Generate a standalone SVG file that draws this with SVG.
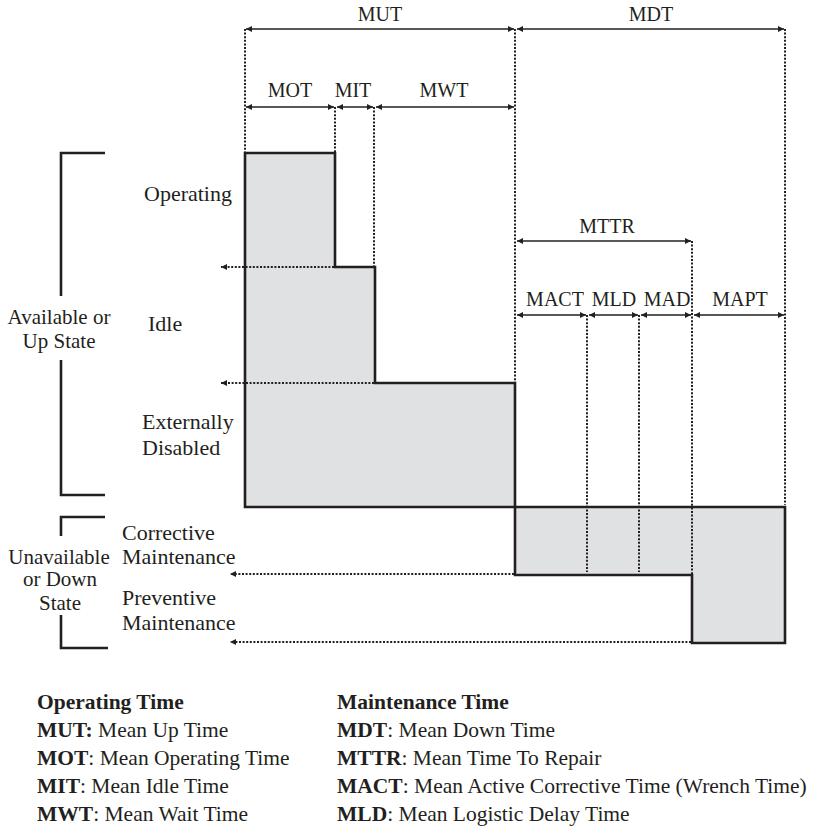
<svg xmlns="http://www.w3.org/2000/svg" width="820" height="838" viewBox="0 0 820 838">
<style>
text{font-family:"Liberation Serif","Times New Roman",serif;font-size:21px;fill:#231f20}
.c{text-anchor:middle}
.b{font-weight:bold}
.d{font-size:20px}
.s{font-size:22px}
.lg{font-size:21.5px}
.dim{stroke:#231f20;stroke-width:1.5;fill:none}
.dot{stroke:#231f20;stroke-width:2;stroke-dasharray:2 1.6;fill:none}
.shape{fill:#e0e1e3;stroke:#231f20;stroke-width:2.6}
.br{stroke:#231f20;stroke-width:2.6;fill:none}
</style>
<defs>
<marker id="ah" viewBox="0 0 10 10" refX="10" refY="5" markerWidth="7" markerHeight="6" markerUnits="userSpaceOnUse" orient="auto-start-reverse">
<path d="M0,0 L10,5 L0,10 z" fill="#231f20"/>
</marker>
<marker id="ahs" viewBox="0 0 10 10" refX="10" refY="5" markerWidth="8" markerHeight="6" markerUnits="userSpaceOnUse" orient="auto-start-reverse">
<path d="M0,0 L10,5 L0,10 z" fill="#231f20"/>
</marker>
</defs>

<g id="up-shape"><path class="shape" d="M245,153 H335 V267 H375 V383 H515 V507 H245 Z"/></g>
<g id="down-shape"><path class="shape" d="M515,507 H785 V643 H692 V575 H515 Z"/></g>

<g id="connectors">
<line class="dot" x1="245" y1="29" x2="245" y2="152"/>
<line class="dot" x1="335" y1="107" x2="335" y2="152"/>
<line class="dot" x1="374" y1="107" x2="374" y2="266"/>
<line class="dot" x1="515" y1="29" x2="515" y2="382"/>
<line class="dot" x1="785" y1="29" x2="785" y2="505"/>
<line class="dot" x1="692" y1="241" x2="692" y2="574"/>
<line class="dot" x1="587" y1="315" x2="587" y2="572"/>
<line class="dot" x1="639" y1="315" x2="639" y2="572"/>
<line class="dim" x1="246" y1="29" x2="514" y2="29" marker-start="url(#ah)" marker-end="url(#ah)"/>
<line class="dim" x1="517" y1="29" x2="784" y2="29" marker-start="url(#ah)" marker-end="url(#ah)"/>
<line class="dim" x1="246" y1="107" x2="334" y2="107" marker-start="url(#ah)" marker-end="url(#ah)"/>
<line class="dim" x1="337" y1="107" x2="373" y2="107" marker-start="url(#ah)" marker-end="url(#ah)"/>
<line class="dim" x1="376" y1="107" x2="514" y2="107" marker-start="url(#ah)" marker-end="url(#ah)"/>
<line class="dim" x1="517" y1="241" x2="691" y2="241" marker-start="url(#ah)" marker-end="url(#ah)"/>
<line class="dim" x1="517" y1="315" x2="586" y2="315" marker-start="url(#ah)" marker-end="url(#ah)"/>
<line class="dim" x1="589" y1="315" x2="638" y2="315" marker-start="url(#ah)" marker-end="url(#ah)"/>
<line class="dim" x1="641" y1="315" x2="691" y2="315" marker-start="url(#ah)" marker-end="url(#ah)"/>
<line class="dim" x1="694" y1="315" x2="784" y2="315" marker-start="url(#ah)" marker-end="url(#ah)"/>
<line class="dot" x1="334" y1="267" x2="221" y2="267" marker-end="url(#ahs)"/>
<line class="dot" x1="374" y1="383" x2="221" y2="383" marker-end="url(#ahs)"/>
<line class="dot" x1="514" y1="574" x2="230" y2="574" marker-end="url(#ahs)"/>
<line class="dot" x1="691" y1="642" x2="230" y2="642" marker-end="url(#ahs)"/>
</g>

<g id="brackets">
<path class="br" d="M105,153 H61 V296"/>
<path class="br" d="M61,360 V495 H105"/>
<path class="br" d="M105,517 H61 V536"/>
<path class="br" d="M61,615 V648 H108"/>
</g>

<g id="dim-labels">
<text class="c d" x="380" y="21">MUT</text>
<text class="c d" x="651" y="21">MDT</text>
<text class="c d" x="290" y="97">MOT</text>
<text class="c d" x="353" y="97">MIT</text>
<text class="c d" x="444" y="97">MWT</text>
<text class="c d" x="607" y="233">MTTR</text>
<text class="c d" x="555" y="306">MACT</text>
<text class="c d" x="614" y="306">MLD</text>
<text class="c d" x="667" y="306">MAD</text>
<text class="c d" x="740" y="306">MAPT</text>
</g>

<g id="state-labels">
<text class="s" x="144" y="201">Operating</text>
<text class="s" x="148" y="331">Idle</text>
<text class="s" x="142" y="429">Externally</text>
<text class="s" x="142" y="455">Disabled</text>
<text class="c" x="59" y="324">Available or</text>
<text class="c" x="59" y="348">Up State</text>
<text class="s" x="122" y="540">Corrective</text>
<text class="s" x="122" y="564">Maintenance</text>
<text class="c" x="59" y="564">Unavailable</text>
<text class="c" x="60" y="586">or Down</text>
<text class="c" x="60" y="610">State</text>
<text class="s" x="122" y="605">Preventive</text>
<text class="s" x="122" y="630">Maintenance</text>
</g>

<g id="legend">
<text class="b lg" x="37" y="709">Operating Time</text>
<text class="lg" x="37" y="737"><tspan class="b">MUT:</tspan> Mean Up Time</text>
<text class="lg" x="37" y="765"><tspan class="b">MOT</tspan>: Mean Operating Time</text>
<text class="lg" x="37" y="793"><tspan class="b">MIT</tspan>: Mean Idle Time</text>
<text class="lg" x="37" y="821"><tspan class="b">MWT</tspan>: Mean Wait Time</text>
<text class="b lg" x="337" y="709">Maintenance Time</text>
<text class="lg" x="337" y="737"><tspan class="b">MDT</tspan>: Mean Down Time</text>
<text class="lg" x="337" y="765"><tspan class="b">MTTR</tspan>: Mean Time To Repair</text>
<text class="lg" x="337" y="793"><tspan class="b">MACT</tspan>: Mean Active Corrective Time (Wrench Time)</text>
<text class="lg" x="337" y="821"><tspan class="b">MLD</tspan>: Mean Logistic Delay Time</text>
</g>
</svg>
